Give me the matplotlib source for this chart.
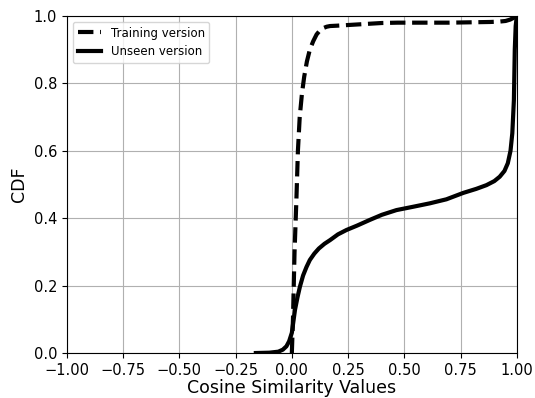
import matplotlib
matplotlib.use("Agg")
import matplotlib.pyplot as plt

# CDF curves
train_x = [0.0, 0.005, 0.012, 0.02, 0.027, 0.035, 0.045, 0.055, 0.067, 0.08, 0.095,
           0.11, 0.125, 0.14, 0.155, 0.17, 0.2, 0.25, 0.3, 0.35, 0.4, 0.47, 0.7,
           0.88, 0.92, 0.95, 0.97, 0.985, 1.0]
train_y = [0.0, 0.1, 0.3, 0.45, 0.6, 0.7, 0.77, 0.82, 0.865, 0.9, 0.925, 0.945,
           0.957, 0.964, 0.968, 0.97, 0.971, 0.973, 0.975, 0.977, 0.979, 0.98, 0.98,
           0.982, 0.983, 0.985, 0.989, 0.994, 1.0]

unseen_x = [-0.16, -0.10, -0.06, -0.04, -0.024, -0.012, 0.0, 0.014, 0.025, 0.036,
            0.05, 0.065, 0.08, 0.1, 0.12, 0.145, 0.17, 0.205, 0.243, 0.29, 0.347,
            0.4, 0.465, 0.54, 0.613, 0.687, 0.762, 0.82, 0.865, 0.9, 0.924, 0.945,
            0.96, 0.972, 0.98, 0.987, 0.991, 0.995, 1.0]
unseen_y = [0.0, 0.001, 0.004, 0.01, 0.02, 0.035, 0.06, 0.128, 0.165, 0.197,
            0.23, 0.255, 0.276, 0.295, 0.31, 0.324, 0.335, 0.352, 0.365, 0.378, 0.395,
            0.41, 0.424, 0.434, 0.444, 0.456, 0.475, 0.487, 0.498, 0.51, 0.523, 0.54,
            0.563, 0.6, 0.652, 0.75, 0.9, 0.97, 1.0]

fig = plt.figure(figsize=(5.35, 3.98), dpi=100)
ax = fig.add_axes([0.125, 0.113, 0.841, 0.847])

ax.plot(train_x, train_y, "k--", lw=3, label="Training version")
ax.plot(unseen_x, unseen_y, "k-", lw=3, label="Unseen version")

ax.set_xlim(-1, 1)
ax.set_ylim(0, 1)
ax.grid(True, color="#b0b0b0", lw=0.8)
ax.tick_params(labelsize=10.5)
ax.set_xlabel("Cosine Similarity Values", fontsize=12.5, labelpad=1)
ax.set_ylabel("CDF", fontsize=12.5)
ax.legend(loc="upper left", fontsize=8.5)

fig.savefig("out.png", dpi=100)
